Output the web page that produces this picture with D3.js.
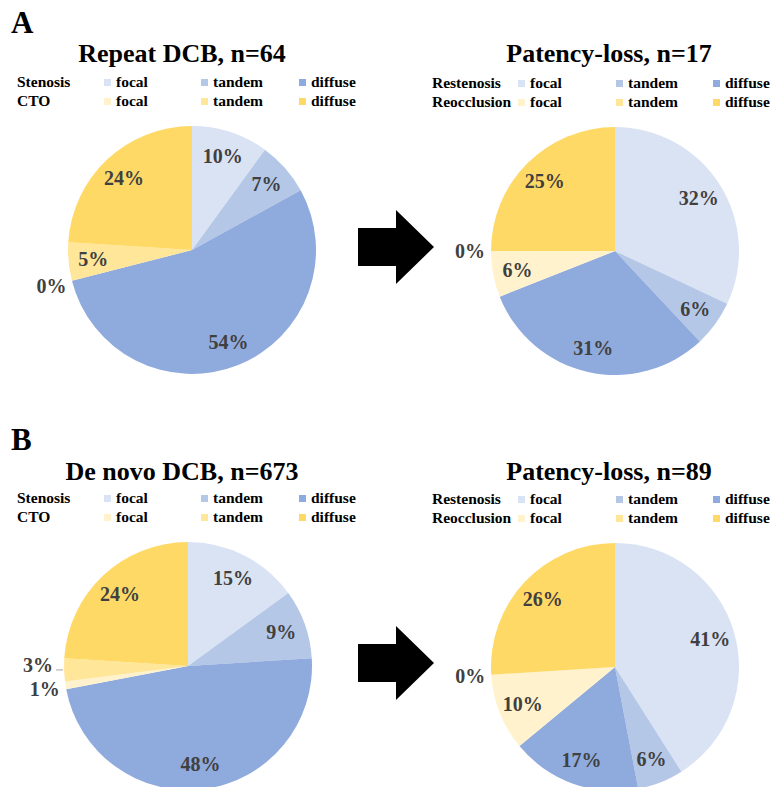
<!DOCTYPE html>
<html lang="en">
<head>
    <meta charset="UTF-8">
    <title>DCB lesion types</title>
    <script src="https://d3js.org/d3.v7.min.js"></script>
    <style>
        body { margin: 0; background: #fff; }
        text { font-family: "Liberation Serif", "Times New Roman", serif; font-weight: bold; }
    </style>
</head>
<body>
<div class="canvas"></div>
<script>
  // slice order: focal, tandem, diffuse (stenosis) then focal, tandem, diffuse (CTO)
  const sliceColors = ['#DAE3F3', '#B4C7E7', '#8FAADC', '#FFF2CC', '#FFE699', '#FFD966']
  const lesionTypes = ['focal', 'tandem', 'diffuse']
  const leftRows = ['Stenosis', 'CTO']
  const rightRows = ['Restenosis', 'Reocclusion']

  const repeatDCB = [10, 7, 54, 0, 5, 24]
  const repeatLoss = [32, 6, 31, 6, 0, 25]
  const denovoDCB = [15, 9, 48, 1, 3, 24]
  const denovoLoss = [41, 6, 17, 10, 0, 26]

  const panelLetters = ['A', 'B']
  const leftTitles = ['Repeat DCB, n=64', 'De novo DCB, n=673']
  const rightTitles = ['Patency-loss, n=17', 'Patency-loss, n=89']

  const width = 771
  const height = 787
  const R = 124

  const svg = d3.select('.canvas')
    .append('svg')
    .attr('width', width)
    .attr('height', height)

  const pie = d3.pie().sort(null).value(d => d)
  const arc = d3.arc().innerRadius(0).outerRadius(R)
  const inLabel = d3.arc().innerRadius(R * 0.8).outerRadius(R * 0.8)
  const outLabel = d3.arc().innerRadius(R + 21).outerRadius(R + 21)

  function drawPie(values, cx, cy) {
    const g = svg.append('g').attr('transform', `translate(${cx}, ${cy})`)
    const arcs = pie(values)

    g.selectAll('path')
      .data(arcs)
      .enter()
      .append('path')
      .attr('d', arc)
      .attr('fill', (d, i) => sliceColors[i])

    // tiny slices that got pushed out get a short leader line
    const leadered = d => d.data < 4 && d.data >= 2

    arcs.filter(leadered).forEach(d => {
      const a = (d.startAngle + d.endAngle) / 2
      g.append('line')
        .attr('x1', Math.sin(a) * (R + 1)).attr('y1', -Math.cos(a) * (R + 1))
        .attr('x2', Math.sin(a) * (R + 8)).attr('y2', -Math.cos(a) * (R + 1))
        .attr('stroke', '#a6a6a6')
        .attr('stroke-width', 1)
    })

    g.selectAll('text')
      .data(arcs)
      .enter()
      .append('text')
      .attr('transform', d => {
        const c = d.data < 4 ? outLabel.centroid(d) : inLabel.centroid(d)
        if (leadered(d)) { c[0] -= 5; c[1] -= 6 }
        return `translate(${c[0]}, ${c[1]})`
      })
      .attr('text-anchor', 'middle')
      .attr('dy', '0.35em')
      .attr('fill', '#404040')
      .style('font-size', '20px')
      .text(d => d.data + '%')
  }

  function drawLegend(rows, x0, sqX, y0) {
    const g = svg.append('g')
    rows.forEach((row, r) => {
      const y = y0 + r * 19
      g.append('text')
        .attr('x', x0).attr('y', y)
        .style('font-size', '15.5px')
        .text(row)
      lesionTypes.forEach((t, k) => {
        g.append('rect')
          .attr('x', sqX[k]).attr('y', y - 8)
          .attr('width', 7).attr('height', 7)
          .attr('fill', sliceColors[r * 3 + k])
        g.append('text')
          .attr('x', sqX[k] + 12).attr('y', y)
          .style('font-size', '15.5px')
          .text(t)
      })
    })
  }

  function drawArrow(x, yMid) {
    const p = d3.path()
    p.moveTo(x, yMid - 19)
    p.lineTo(x + 38, yMid - 19)
    p.lineTo(x + 38, yMid - 37)
    p.lineTo(x + 76, yMid)
    p.lineTo(x + 38, yMid + 37)
    p.lineTo(x + 38, yMid + 19)
    p.lineTo(x, yMid + 19)
    p.closePath()
    svg.append('path').attr('d', p.toString()).attr('fill', '#000')
  }

  const panels = [
    { top: 0, left: repeatDCB, right: repeatLoss },
    { top: 416, left: denovoDCB, right: denovoLoss }
  ]

  panels.forEach((pn, i) => {
    const t = pn.top
    svg.append('text')
      .attr('x', 11).attr('y', t + 33 + (i ? 1 : 0))
      .style('font-size', '31px')
      .text(panelLetters[i])

    svg.append('text')
      .attr('x', 182).attr('y', t + 62 + (i ? 2 : 0))
      .attr('text-anchor', 'middle')
      .style('font-size', '26px')
      .text(leftTitles[i])

    svg.append('text')
      .attr('x', 609).attr('y', t + 62 + (i ? 2 : 0))
      .attr('text-anchor', 'middle')
      .style('font-size', '26px')
      .text(rightTitles[i])

    drawLegend(leftRows, 17, [104, 201, 299], t + 87)
    drawLegend(rightRows, 432, [518, 616, 713], t + 88)

    drawPie(pn.left, i ? 188 : 192, t + 250)
    drawPie(pn.right, 615, t + 251)

    drawArrow(358, t + 247)
  })
</script>
</body>
</html>
